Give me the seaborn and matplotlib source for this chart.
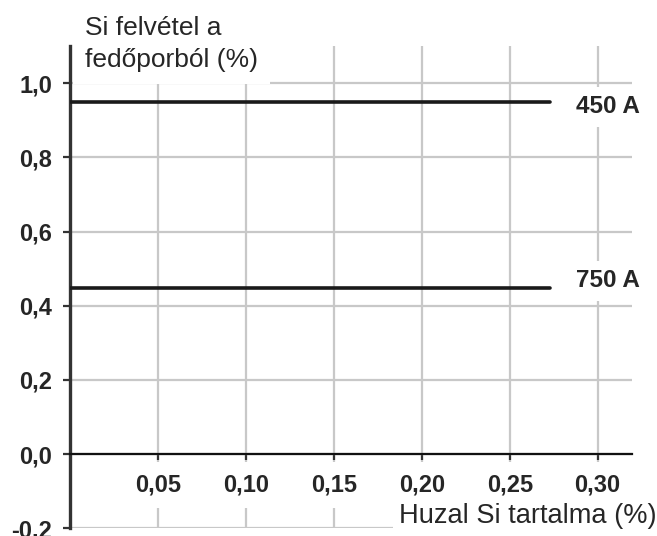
import numpy as np
import pandas as pd
import matplotlib
matplotlib.use('Agg')
import matplotlib.pyplot as plt
import seaborn as sns

# wire Si content (%) vs Si pick-up from the flux (%)
si_wire = [0.0, 0.273]
uptake_450 = [0.95, 0.95]
uptake_750 = [0.448, 0.448]
currents = ['450 A', '750 A']

xticks = [0.05, 0.10, 0.15, 0.20, 0.25, 0.30]
xtick_labels = ['0,05', '0,10', '0,15', '0,20', '0,25', '0,30']
yticks = [-0.2, 0.0, 0.2, 0.4, 0.6, 0.8, 1.0]
ytick_labels = ['-0,2', '0,0', '0,2', '0,4', '0,6', '0,8', '1,0']

sns.set_style('white')
plt.rcParams['font.family'] = ['Liberation Sans', 'DejaVu Sans']

df = pd.DataFrame({
    'x': si_wire * 2,
    'y': uptake_450 + uptake_750,
    'current': [currents[0]] * 2 + [currents[1]] * 2,
})

fig = plt.figure(figsize=(6.57, 5.36), dpi=100)
ax = fig.add_axes([0.1065, 0.0144, 0.8554, 0.8995])

sns.lineplot(data=df, x='x', y='y', hue='current', palette=['#1a1a1a', '#1a1a1a'],
             linewidth=2.6, legend=False, ax=ax, zorder=3)

ax.set_xlim(0, 0.3195)
ax.set_ylim(-0.2, 1.1)

# spines first: moving the bottom spine resets the tick objects
for s in ['top', 'right']:
    ax.spines[s].set_visible(False)
ax.spines['left'].set_color('#333333')
ax.spines['left'].set_linewidth(2.4)
ax.spines['bottom'].set_position(('data', 0))
ax.spines['bottom'].set_color('#111111')
ax.spines['bottom'].set_linewidth(1.6)

ax.set_xticks(xticks)
ax.set_xticklabels(xtick_labels, fontsize=17, fontweight='bold')
ax.set_yticks(yticks)
ax.set_yticklabels(ytick_labels, fontsize=17, fontweight='bold')

ax.grid(True, color='#c8c8c8', linewidth=1.6)
ax.tick_params(axis='y', direction='out', length=5, width=1.6, color='#333333', pad=8, left=True)
ax.tick_params(axis='x', direction='out', length=4, width=1.6, color='#333333', pad=10, bottom=True)

for lbl in ax.get_xticklabels():
    lbl.set_bbox(dict(facecolor='white', edgecolor='none', boxstyle='square,pad=0.5'))

ax.set_xlabel('')
ax.set_ylabel('')

ax.text(0.0085, 1.18, 'Si felvétel a\nfedőporból (%)', fontsize=19, ha='left', va='top',
        linespacing=1.4, clip_on=False, zorder=4,
        bbox=dict(facecolor='white', edgecolor='none', boxstyle='square,pad=0.45'))
ax.text(0.1868, -0.166, 'Huzal Si tartalma (%)', fontsize=19.6, ha='left', va='center',
        clip_on=False, zorder=4,
        bbox=dict(facecolor='white', edgecolor='none', boxstyle='square,pad=0.2'))

ax.text(0.2877, 0.937, currents[0], fontsize=17.5, fontweight='bold', ha='left', va='center',
        zorder=4, clip_on=False,
        bbox=dict(facecolor='white', edgecolor='none', boxstyle='square,pad=0.35'))
ax.text(0.2877, 0.467, currents[1], fontsize=17.5, fontweight='bold', ha='left', va='center',
        zorder=4, clip_on=False,
        bbox=dict(facecolor='white', edgecolor='none', boxstyle='square,pad=0.35'))

fig.savefig('out.png', dpi=100)
